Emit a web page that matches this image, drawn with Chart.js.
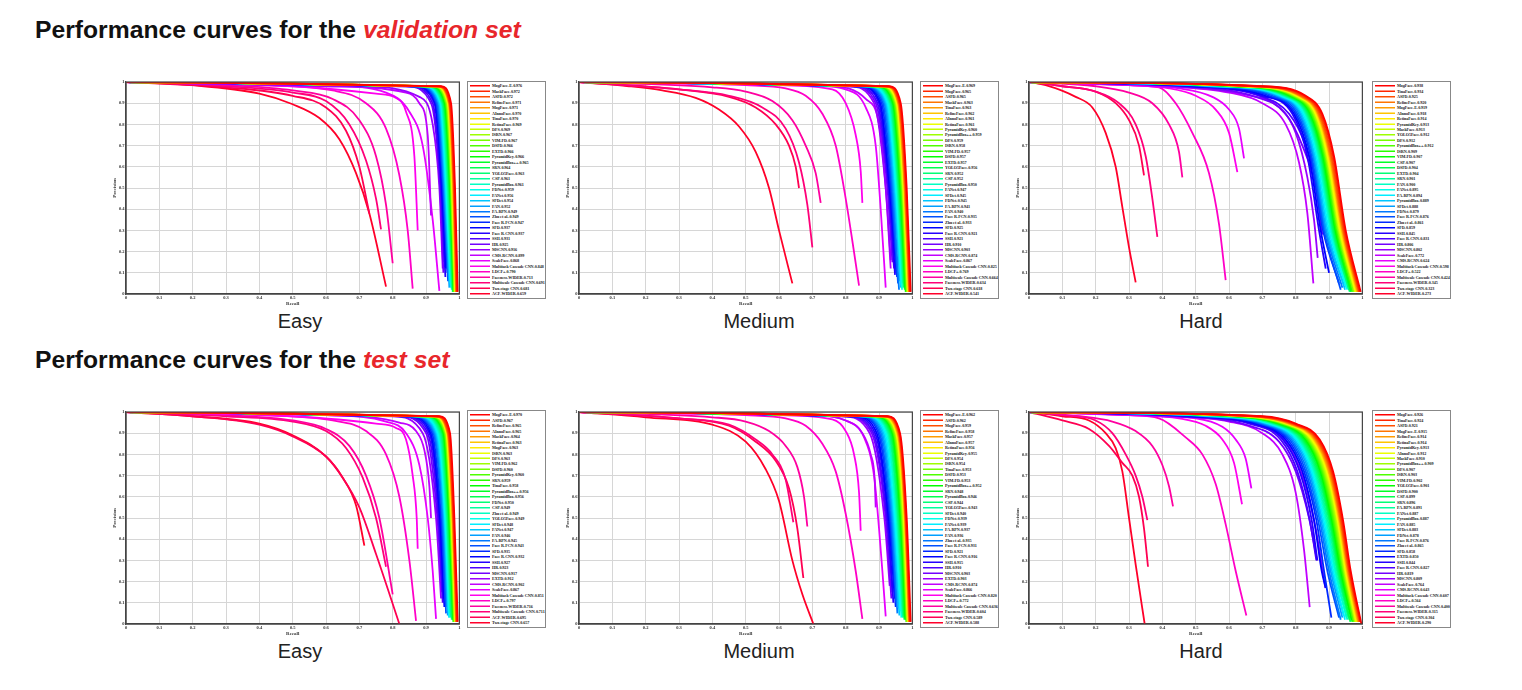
<!DOCTYPE html>
<html>
<head>
<meta charset="utf-8">
<script src="https://cdn.jsdelivr.net/npm/chart.js@4.4.1/dist/chart.umd.min.js"></script>
<style>
  body { margin: 0; width: 1522px; height: 690px; background: #fff; position: relative; overflow: hidden; font-family: "Liberation Sans", Arial, sans-serif; }
  .head { position: absolute; left: 35px; font-size: 24.7px; font-weight: bold; line-height: 24px; color: #111; white-space: nowrap; }
  .head em { color: #e8262b; }
  .sub { position: absolute; width: 200px; text-align: center; font-size: 20px; line-height: 20px; color: #222; }
  canvas { position: absolute; }
  .legend { position: absolute; width: 158px; height: 436px; border: 2px solid #888; box-sizing: border-box; transform: scale(.5); transform-origin: 0 0; background: #fff; padding-top: 2px; overflow: hidden; }
  .row { height: 10.95px; line-height: 10.95px; display: flex; align-items: center; white-space: nowrap; font: bold 8.3px "Liberation Serif", serif; letter-spacing: -0.15px; color: #222; }
  .row i { display: inline-block; width: 40px; height: 3px; margin: 0 4px 0 4px; flex: none; }
</style>
</head>
<body>
<div class="head" style="top:18px">Performance curves for the <em>validation set</em></div>
<div class="head" style="top:348px">Performance curves for the <em>test set</em></div>

<script>
// ---- tick labels ----
const tickValues = [0, 0.1, 0.2, 0.3, 0.4, 0.5, 0.6, 0.7, 0.8, 0.9, 1];
const difficulty = ['Easy', 'Medium', 'Hard'];

// ---- validation / easy ----
const valEasyNames = ['MogFace-E','MaskFace','ASFD','RefineFace','MogFace','AInnoFace','TinaFace','RetinaFace','DFS','ISRN',
  'VIM-FD','DSFD','EXTD','PyramidKey','PyramidBox++','SRN','YOLO5Face','CSP','PyramidBox','FDNet',
  'FANet','SFDet','FAN','FA-RPN','Zhu et al.','Face R-FCN','SFD','Face R-CNN','SSH','HR',
  'MSCNN','CMS-RCNN','ScaleFace','Multitask Cascade CNN','LDCF+','Faceness-WIDER','Multiscale Cascade CNN','Two-stage CNN','ACF-WIDER'];
const valEasyAP = [0.976,0.972,0.972,0.971,0.971,0.970,0.970,0.969,0.969,0.967,
  0.967,0.966,0.966,0.966,0.965,0.964,0.963,0.961,0.961,0.959,
  0.956,0.954,0.952,0.949,0.949,0.947,0.937,0.937,0.931,0.925,
  0.916,0.899,0.868,0.848,0.790,0.713,0.691,0.681,0.659];
const valEasyCurves = [
  [[0,1],[.945,.98],[.975,.9],[.987,.5],[.995,.01]],
  [[0,1],[.94,.98],[.972,.9],[.985,.5],[.993,.01]],
  [[0,1],[.938,.98],[.971,.9],[.984,.5],[.992,.01]],
  [[0,1],[.936,.98],[.97,.9],[.983,.5],[.991,.01]],
  [[0,1],[.934,.98],[.969,.9],[.982,.5],[.99,.01]],
  [[0,1],[.932,.98],[.968,.9],[.981,.5],[.99,.01]],
  [[0,1],[.93,.98],[.967,.9],[.98,.5],[.989,.01]],
  [[0,1],[.928,.98],[.966,.9],[.979,.5],[.988,.01]],
  [[0,1],[.926,.98],[.965,.9],[.978,.5],[.987,.01]],
  [[0,1],[.924,.98],[.963,.9],[.977,.5],[.986,.01]],
  [[0,1],[.922,.98],[.962,.9],[.976,.5],[.985,.01]],
  [[0,1],[.92,.98],[.96,.9],[.975,.5],[.985,.02]],
  [[0,1],[.918,.98],[.959,.9],[.974,.5],[.984,.01]],
  [[0,1],[.915,.98],[.957,.9],[.973,.5],[.983,.02]],
  [[0,1],[.912,.98],[.955,.9],[.971,.5],[.982,.01]],
  [[0,1],[.91,.98],[.953,.9],[.97,.5],[.981,.02]],
  [[0,1],[.907,.98],[.951,.9],[.968,.5],[.98,.01]],
  [[0,1],[.904,.98],[.949,.9],[.966,.5],[.978,.03]],
  [[0,1],[.9,.98],[.947,.9],[.964,.5],[.977,.02]],
  [[0,1],[.897,.98],[.945,.9],[.962,.5],[.975,.04]],
  [[0,1],[.894,.98],[.943,.9],[.96,.5],[.974,.03]],
  [[0,1],[.89,.98],[.94,.9],[.958,.5],[.972,.05]],
  [[0,1],[.886,.98],[.938,.9],[.956,.5],[.97,.03]],
  [[0,1],[.882,.98],[.935,.9],[.954,.5],[.968,.08]],
  [[0,1],[.878,.98],[.932,.9],[.952,.5],[.966,.06]],
  [[0,1],[.874,.98],[.93,.9],[.95,.5],[.964,.1]],
  [[0,1],[.87,.98],[.928,.9],[.948,.5],[.96,.12]],
  [[0,1],[.86,.98],[.925,.9],[.946,.5],[.958,.08]],
  [[0,1],[.85,.98],[.92,.9],[.944,.5],[.955,.15]],
  [[0,1],[.84,.98],[.915,.9],[.942,.5],[.952,.1]],
  [[0,1],[.7,.98],[.88,.93],[.92,.8],[.94,.5],[.95,.12]],
  [[0,1],[.6,.98],[.84,.95],[.88,.9],[.905,.75],[.915,.37]],
  [[0,1],[.6,.985],[.78,.95],[.85,.86],[.89,.7],[.92,.35],[.94,.015]],
  [[0,1],[.5,.98],[.75,.945],[.81,.925],[.84,.86],[.865,.65],[.875,.3]],
  [[0,1],[.4,.985],[.62,.96],[.72,.9],[.78,.78],[.82,.56],[.845,.3],[.86,.025]],
  [[0,1],[.3,.985],[.5,.96],[.62,.92],[.7,.82],[.75,.65],[.78,.42],[.8,.145]],
  [[0,1],[.3,.98],[.5,.95],[.6,.91],[.67,.8],[.72,.63],[.75,.45],[.765,.305]],
  [[0,1],[.3,.975],[.5,.935],[.6,.88],[.66,.77],[.7,.6],[.73,.38]],
  [[0,1],[.2,.985],[.4,.945],[.5,.895],[.58,.83],[.64,.73],[.69,.57],[.73,.38],[.78,.035]]
];

// ---- validation / medium ----
const valMedNames = ['MogFace-E','MogFace','ASFD','MaskFace','TinaFace','RefineFace','AInnoFace','RetinaFace','PyramidKey','PyramidBox++',
  'DFS','ISRN','VIM-FD','DSFD','EXTD','YOLO5Face','SRN','CSP','PyramidBox','FANet',
  'SFDet','FDNet','FA-RPN','FAN','Face R-FCN','Zhu et al.','SFD','Face R-CNN','SSH','HR',
  'MSCNN','CMS-RCNN','ScaleFace','Multitask Cascade CNN','LDCF+','Multiscale Cascade CNN','Faceness-WIDER','Two-stage CNN','ACF-WIDER'];
const valMedAP = [0.969,0.965,0.965,0.963,0.963,0.962,0.961,0.961,0.960,0.959,
  0.959,0.958,0.957,0.957,0.957,0.956,0.952,0.952,0.950,0.947,
  0.945,0.945,0.941,0.940,0.935,0.933,0.925,0.921,0.921,0.910,
  0.903,0.874,0.867,0.825,0.769,0.664,0.634,0.618,0.541];
const valMedCurves = [
  [[0,1],[.93,.98],[.965,.9],[.983,.5],[.995,.01]],
  [[0,1],[.926,.98],[.962,.9],[.981,.5],[.993,.01]],
  [[0,1],[.924,.98],[.961,.9],[.98,.5],[.992,.01]],
  [[0,1],[.921,.98],[.959,.9],[.978,.5],[.991,.01]],
  [[0,1],[.919,.98],[.958,.9],[.977,.5],[.99,.01]],
  [[0,1],[.917,.98],[.957,.9],[.976,.5],[.989,.01]],
  [[0,1],[.915,.98],[.955,.9],[.975,.5],[.988,.01]],
  [[0,1],[.913,.98],[.954,.9],[.974,.5],[.987,.01]],
  [[0,1],[.911,.98],[.952,.9],[.972,.5],[.986,.01]],
  [[0,1],[.909,.98],[.951,.9],[.971,.5],[.985,.01]],
  [[0,1],[.906,.98],[.949,.9],[.97,.5],[.984,.02]],
  [[0,1],[.903,.98],[.947,.9],[.968,.5],[.983,.01]],
  [[0,1],[.9,.98],[.945,.9],[.966,.5],[.981,.02]],
  [[0,1],[.897,.98],[.943,.9],[.965,.5],[.98,.01]],
  [[0,1],[.894,.98],[.941,.9],[.963,.5],[.978,.03]],
  [[0,1],[.891,.98],[.939,.9],[.961,.5],[.977,.02]],
  [[0,1],[.887,.98],[.936,.9],[.959,.5],[.975,.04]],
  [[0,1],[.884,.98],[.934,.9],[.957,.5],[.973,.03]],
  [[0,1],[.88,.98],[.931,.9],[.955,.5],[.971,.05]],
  [[0,1],[.876,.98],[.928,.9],[.952,.5],[.969,.02]],
  [[0,1],[.872,.98],[.925,.9],[.95,.5],[.967,.04]],
  [[0,1],[.868,.98],[.922,.9],[.947,.5],[.965,.03]],
  [[0,1],[.864,.98],[.919,.9],[.944,.5],[.963,.06]],
  [[0,1],[.86,.98],[.916,.9],[.941,.5],[.96,.02]],
  [[0,1],[.855,.98],[.912,.9],[.938,.5],[.957,.05]],
  [[0,1],[.85,.98],[.908,.9],[.935,.5],[.954,.08]],
  [[0,1],[.845,.98],[.904,.9],[.932,.5],[.952,.1]],
  [[0,1],[.84,.98],[.9,.9],[.93,.5],[.948,.09]],
  [[0,1],[.83,.98],[.895,.9],[.928,.5],[.945,.12]],
  [[0,1],[.82,.98],[.89,.9],[.925,.5],[.94,.15]],
  [[0,1],[.81,.98],[.885,.9],[.92,.5],[.935,.16]],
  [[0,1],[.75,.98],[.86,.92],[.9,.8],[.92,.5],[.935,.12]],
  [[0,1],[.7,.985],[.8,.965],[.86,.88],[.89,.7],[.905,.4],[.92,.03]],
  [[0,1],[.6,.985],[.76,.965],[.8,.9],[.83,.75],[.845,.58],[.85,.43]],
  [[0,1],[.5,.985],[.62,.97],[.68,.935],[.73,.85],[.77,.7],[.8,.45],[.82,.25],[.84,.04]],
  [[0,1],[.4,.975],[.5,.955],[.58,.91],[.64,.82],[.68,.7],[.71,.57],[.725,.43]],
  [[0,1],[.3,.965],[.45,.935],[.55,.88],[.62,.78],[.66,.62],[.685,.42],[.7,.22]],
  [[0,1],[.3,.965],[.45,.93],[.53,.88],[.59,.8],[.63,.7],[.65,.6],[.66,.5]],
  [[0,1],[.15,.98],[.25,.96],[.35,.925],[.42,.87],[.48,.79],[.53,.67],[.57,.5],[.6,.3],[.64,.05]]
];

// ---- validation / hard ----
const valHardNames = ['MogFace','TinaFace','ASFD','RefineFace','MogFace-E','AInnoFace','RetinaFace','PyramidKey','MaskFace','YOLO5Face',
  'DFS','PyramidBox++','ISRN','VIM-FD','CSP','DSFD','EXTD','SRN','FAN','FANet',
  'FA-RPN','PyramidBox','SFDet','FDNet','Face R-FCN','Zhu et al.','SFD','SSH','Face R-CNN','HR',
  'MSCNN','ScaleFace','CMS-RCNN','Multitask Cascade CNN','LDCF+','Multiscale Cascade CNN','Faceness-WIDER','Two-stage CNN','ACF-WIDER'];
const valHardAP = [0.938,0.934,0.925,0.920,0.919,0.918,0.914,0.913,0.913,0.912,
  0.912,0.912,0.909,0.907,0.907,0.904,0.904,0.901,0.900,0.895,
  0.894,0.889,0.888,0.879,0.876,0.861,0.859,0.845,0.831,0.806,
  0.802,0.772,0.624,0.598,0.522,0.424,0.345,0.323,0.273];
const valHardCurves = [
  [[0,1],[.7,.98],[.83,.935],[.88,.85],[.915,.65],[.95,.3],[.995,.01]],
  [[0,1],[.69,.98],[.825,.935],[.876,.85],[.912,.65],[.947,.3],[.992,.01]],
  [[0,1],[.68,.98],[.818,.935],[.872,.85],[.908,.65],[.944,.3],[.99,.01]],
  [[0,1],[.675,.98],[.815,.935],[.869,.85],[.905,.65],[.942,.3],[.988,.01]],
  [[0,1],[.67,.98],[.812,.935],[.867,.85],[.903,.65],[.94,.3],[.986,.01]],
  [[0,1],[.665,.98],[.81,.935],[.865,.85],[.901,.65],[.938,.3],[.984,.01]],
  [[0,1],[.66,.98],[.806,.935],[.862,.85],[.898,.65],[.935,.3],[.982,.01]],
  [[0,1],[.655,.98],[.803,.935],[.86,.85],[.896,.65],[.933,.3],[.98,.01]],
  [[0,1],[.65,.98],[.8,.935],[.858,.85],[.894,.65],[.931,.3],[.978,.01]],
  [[0,1],[.645,.98],[.797,.935],[.855,.85],[.892,.65],[.929,.3],[.976,.02]],
  [[0,1],[.64,.98],[.794,.935],[.853,.85],[.89,.65],[.927,.3],[.974,.01]],
  [[0,1],[.635,.98],[.791,.935],[.85,.85],[.888,.65],[.925,.3],[.972,.02]],
  [[0,1],[.63,.98],[.787,.935],[.847,.85],[.885,.65],[.922,.3],[.97,.01]],
  [[0,1],[.625,.98],[.784,.935],[.845,.85],[.883,.65],[.92,.3],[.968,.02]],
  [[0,1],[.62,.98],[.78,.935],[.842,.85],[.88,.65],[.918,.3],[.966,.01]],
  [[0,1],[.615,.98],[.776,.935],[.839,.85],[.878,.65],[.915,.3],[.964,.02]],
  [[0,1],[.61,.98],[.772,.935],[.836,.85],[.875,.65],[.912,.3],[.962,.01]],
  [[0,1],[.605,.98],[.768,.935],[.833,.85],[.872,.65],[.91,.3],[.96,.02]],
  [[0,1],[.6,.98],[.764,.935],[.83,.85],[.869,.65],[.907,.3],[.958,.03]],
  [[0,1],[.59,.98],[.76,.935],[.826,.85],[.866,.65],[.904,.3],[.955,.02]],
  [[0,1],[.58,.98],[.755,.935],[.822,.85],[.862,.65],[.9,.3],[.952,.03]],
  [[0,1],[.57,.98],[.75,.935],[.818,.85],[.858,.65],[.896,.3],[.948,.02]],
  [[0,1],[.56,.98],[.745,.935],[.814,.85],[.855,.65],[.892,.3],[.945,.04]],
  [[0,1],[.55,.98],[.74,.935],[.81,.85],[.852,.65],[.889,.3],[.94,.03]],
  [[0,1],[.54,.98],[.73,.935],[.805,.85],[.848,.65],[.885,.3],[.935,.02]],
  [[0,1],[.52,.98],[.72,.935],[.8,.85],[.845,.65],[.882,.3],[.93,.05]],
  [[0,1],[.5,.98],[.71,.935],[.795,.85],[.84,.65],[.875,.3],[.9,.1]],
  [[0,1],[.48,.98],[.7,.935],[.79,.85],[.835,.65],[.87,.3],[.89,.12]],
  [[0,1],[.5,.98],[.7,.93],[.78,.85],[.83,.7],[.865,.5],[.885,.29]],
  [[0,1],[.45,.98],[.68,.93],[.77,.85],[.82,.7],[.86,.5],[.88,.28]],
  [[0,1],[.45,.98],[.65,.94],[.75,.88],[.8,.76],[.835,.55],[.855,.35],[.866,.17]],
  [[0,1],[.4,.98],[.6,.95],[.7,.9],[.77,.8],[.81,.62],[.835,.38],[.853,.05]],
  [[0,1],[.3,.985],[.45,.97],[.55,.93],[.6,.87],[.63,.78],[.645,.64]],
  [[0,1],[.3,.985],[.42,.97],[.5,.935],[.56,.87],[.6,.76],[.625,.575]],
  [[0,1],[.3,.985],[.39,.975],[.44,.9],[.49,.76],[.54,.57],[.57,.33],[.59,.065]],
  [[0,1],[.2,.98],[.3,.95],[.37,.9],[.42,.8],[.45,.67],[.46,.55]],
  [[0,1],[.1,.98],[.2,.955],[.27,.9],[.32,.8],[.35,.65],[.37,.45],[.385,.27]],
  [[0,1],[.1,.98],[.2,.955],[.26,.9],[.3,.82],[.33,.7],[.345,.56]],
  [[0,1],[.05,.985],[.14,.93],[.19,.88],[.23,.76],[.26,.6],[.28,.41],[.3,.22],[.32,.055]]
];

// ---- test / easy ----
const testEasyNames = ['MogFace-E','ASFD','RefineFace','AInnoFace','MaskFace','RetinaFace','MogFace','ISRN','DFS','VIM-FD',
  'DSFD','PyramidKey','SRN','TinaFace','PyramidBox++','PyramidBox','FDNet','CSP','Zhu et al.','YOLO5Face',
  'SFDet','FANet','FAN','FA-RPN','Face R-FCN','SFD','Face R-CNN','SSH','HR','MSCNN',
  'EXTD','CMS-RCNN','ScaleFace','Multitask Cascade CNN','LDCF+','Faceness-WIDER','Multiscale Cascade CNN','ACF-WIDER','Two-stage CNN'];
const testEasyAP = [0.970,0.967,0.965,0.965,0.964,0.963,0.963,0.963,0.963,0.962,
  0.960,0.960,0.959,0.958,0.956,0.956,0.950,0.949,0.949,0.949,
  0.948,0.947,0.946,0.945,0.943,0.935,0.932,0.927,0.923,0.917,
  0.912,0.902,0.867,0.851,0.797,0.716,0.711,0.695,0.657];
const testEasyCurves = [
  [[0,1],[.94,.98],[.972,.9],[.985,.5],[.995,.01]],
  [[0,1],[.935,.98],[.969,.9],[.983,.5],[.993,.01]],
  [[0,1],[.932,.98],[.967,.9],[.982,.5],[.992,.01]],
  [[0,1],[.93,.98],[.966,.9],[.981,.5],[.991,.01]],
  [[0,1],[.928,.98],[.965,.9],[.98,.5],[.99,.01]],
  [[0,1],[.926,.98],[.964,.9],[.979,.5],[.99,.01]],
  [[0,1],[.924,.98],[.963,.9],[.978,.5],[.989,.01]],
  [[0,1],[.922,.98],[.962,.9],[.977,.5],[.988,.01]],
  [[0,1],[.92,.98],[.961,.9],[.976,.5],[.987,.01]],
  [[0,1],[.918,.98],[.96,.9],[.975,.5],[.986,.01]],
  [[0,1],[.915,.98],[.958,.9],[.974,.5],[.985,.02]],
  [[0,1],[.913,.98],[.957,.9],[.973,.5],[.984,.01]],
  [[0,1],[.91,.98],[.955,.9],[.972,.5],[.983,.02]],
  [[0,1],[.907,.98],[.953,.9],[.97,.5],[.982,.01]],
  [[0,1],[.904,.98],[.951,.9],[.969,.5],[.981,.02]],
  [[0,1],[.901,.98],[.949,.9],[.967,.5],[.979,.03]],
  [[0,1],[.897,.98],[.946,.9],[.965,.5],[.977,.02]],
  [[0,1],[.893,.98],[.943,.9],[.963,.5],[.975,.04]],
  [[0,1],[.889,.98],[.94,.9],[.961,.5],[.973,.03]],
  [[0,1],[.885,.98],[.937,.9],[.959,.5],[.971,.05]],
  [[0,1],[.88,.98],[.934,.9],[.957,.5],[.969,.03]],
  [[0,1],[.875,.98],[.931,.9],[.955,.5],[.967,.06]],
  [[0,1],[.87,.98],[.928,.9],[.953,.5],[.965,.04]],
  [[0,1],[.865,.98],[.925,.9],[.95,.5],[.963,.08]],
  [[0,1],[.86,.98],[.922,.9],[.948,.5],[.96,.05]],
  [[0,1],[.855,.98],[.918,.9],[.945,.5],[.958,.1]],
  [[0,1],[.85,.98],[.914,.9],[.942,.5],[.955,.08]],
  [[0,1],[.84,.98],[.91,.9],[.94,.5],[.952,.12]],
  [[0,1],[.83,.98],[.905,.9],[.937,.5],[.95,.1]],
  [[0,1],[.82,.98],[.9,.9],[.934,.5],[.948,.15]],
  [[0,1],[.8,.98],[.89,.9],[.93,.5],[.945,.12]],
  [[0,1],[.6,.985],[.82,.95],[.87,.91],[.895,.82],[.91,.65],[.915,.5]],
  [[0,1],[.6,.985],[.78,.955],[.84,.9],[.88,.75],[.905,.5],[.92,.25],[.93,.024]],
  [[0,1],[.5,.98],[.75,.945],[.81,.925],[.84,.87],[.86,.7],[.872,.5],[.875,.355]],
  [[0,1],[.4,.985],[.62,.96],[.72,.91],[.78,.8],[.82,.6],[.85,.3],[.87,.015]],
  [[0,1],[.3,.985],[.5,.96],[.6,.92],[.67,.84],[.72,.7],[.76,.5],[.8,.14]],
  [[0,1],[.3,.98],[.5,.955],[.6,.91],[.66,.83],[.71,.69],[.75,.5],[.78,.27]],
  [[0,1],[.2,.98],[.4,.94],[.5,.885],[.6,.79],[.65,.69],[.7,.55],[.75,.33],[.82,0]],
  [[0,1],[.2,.98],[.4,.945],[.5,.89],[.6,.79],[.65,.69],[.69,.56],[.715,.37]]
];

// ---- test / medium ----
const testMedNames = ['MogFace-E','ASFD','MogFace','RefineFace','MaskFace','AInnoFace','RetinaFace','PyramidKey','DFS','ISRN',
  'TinaFace','DSFD','VIM-FD','PyramidBox++','SRN','PyramidBox','CSP','YOLO5Face','SFDet','FDNet',
  'FANet','FA-RPN','FAN','Zhu et al.','Face R-FCN','SFD','Face R-CNN','SSH','HR','MSCNN',
  'EXTD','CMS-RCNN','ScaleFace','Multitask Cascade CNN','LDCF+','Multiscale Cascade CNN','Faceness-WIDER','Two-stage CNN','ACF-WIDER'];
const testMedAP = [0.962,0.962,0.959,0.958,0.957,0.957,0.956,0.955,0.954,0.954,
  0.953,0.953,0.953,0.952,0.948,0.946,0.944,0.943,0.940,0.939,
  0.939,0.937,0.936,0.935,0.931,0.921,0.916,0.915,0.910,0.903,
  0.903,0.874,0.866,0.820,0.772,0.636,0.604,0.589,0.588];
const testMedCurves = [
  [[0,1],[.925,.98],[.963,.9],[.983,.5],[.995,.01]],
  [[0,1],[.922,.98],[.961,.9],[.981,.5],[.993,.01]],
  [[0,1],[.92,.98],[.96,.9],[.98,.5],[.992,.01]],
  [[0,1],[.917,.98],[.958,.9],[.979,.5],[.991,.01]],
  [[0,1],[.915,.98],[.957,.9],[.978,.5],[.99,.01]],
  [[0,1],[.912,.98],[.955,.9],[.977,.5],[.989,.01]],
  [[0,1],[.91,.98],[.954,.9],[.976,.5],[.988,.01]],
  [[0,1],[.907,.98],[.952,.9],[.975,.5],[.987,.01]],
  [[0,1],[.905,.98],[.951,.9],[.973,.5],[.986,.01]],
  [[0,1],[.902,.98],[.949,.9],[.972,.5],[.985,.02]],
  [[0,1],[.9,.98],[.947,.9],[.97,.5],[.984,.01]],
  [[0,1],[.897,.98],[.945,.9],[.969,.5],[.983,.02]],
  [[0,1],[.894,.98],[.943,.9],[.967,.5],[.982,.01]],
  [[0,1],[.891,.98],[.941,.9],[.965,.5],[.98,.02]],
  [[0,1],[.888,.98],[.938,.9],[.963,.5],[.978,.03]],
  [[0,1],[.884,.98],[.935,.9],[.961,.5],[.976,.02]],
  [[0,1],[.88,.98],[.932,.9],[.958,.5],[.974,.04]],
  [[0,1],[.876,.98],[.929,.9],[.956,.5],[.972,.03]],
  [[0,1],[.872,.98],[.926,.9],[.953,.5],[.97,.05]],
  [[0,1],[.868,.98],[.922,.9],[.95,.5],[.967,.03]],
  [[0,1],[.864,.98],[.918,.9],[.947,.5],[.964,.06]],
  [[0,1],[.86,.98],[.914,.9],[.944,.5],[.961,.04]],
  [[0,1],[.855,.98],[.91,.9],[.941,.5],[.958,.08]],
  [[0,1],[.85,.98],[.906,.9],[.938,.5],[.955,.05]],
  [[0,1],[.845,.98],[.902,.9],[.935,.5],[.952,.1]],
  [[0,1],[.84,.98],[.898,.9],[.932,.5],[.95,.08]],
  [[0,1],[.83,.98],[.893,.9],[.929,.5],[.947,.12]],
  [[0,1],[.82,.98],[.888,.9],[.926,.5],[.943,.1]],
  [[0,1],[.81,.98],[.883,.9],[.923,.5],[.94,.15]],
  [[0,1],[.8,.98],[.878,.9],[.92,.5],[.937,.12]],
  [[0,1],[.79,.98],[.872,.9],[.916,.5],[.932,.18]],
  [[0,1],[.7,.985],[.8,.96],[.85,.9],[.875,.8],[.887,.68],[.89,.55]],
  [[0,1],[.7,.985],[.8,.96],[.855,.88],[.885,.7],[.9,.45],[.91,.25],[.92,.036]],
  [[0,1],[.6,.985],[.76,.965],[.8,.91],[.825,.8],[.84,.62],[.845,.44]],
  [[0,1],[.5,.985],[.62,.97],[.68,.935],[.73,.85],[.77,.72],[.8,.52],[.83,.25],[.85,.024]],
  [[0,1],[.4,.975],[.5,.955],[.57,.91],[.62,.84],[.655,.74],[.675,.6],[.685,.46]],
  [[0,1],[.3,.97],[.45,.94],[.53,.87],[.58,.8],[.62,.68],[.643,.48]],
  [[0,1],[.3,.97],[.45,.935],[.53,.86],[.59,.77],[.63,.64],[.655,.45],[.673,.217]],
  [[0,1],[.2,.975],[.4,.94],[.5,.86],[.56,.73],[.6,.58],[.64,.3],[.67,.14],[.703,0]]
];

// ---- test / hard ----
const testHardNames = ['MogFace','TinaFace','ASFD','MogFace-E','RefineFace','RetinaFace','PyramidKey','AInnoFace','MaskFace','PyramidBox++',
  'DFS','ISRN','VIM-FD','YOLO5Face','DSFD','CSP','SRN','FA-RPN','FANet','PyramidBox',
  'FAN','SFDet','FDNet','Face R-FCN','Zhu et al.','SFD','EXTD','SSH','Face R-CNN','HR',
  'MSCNN','ScaleFace','CMS-RCNN','Multitask Cascade CNN','LDCF+','Multiscale Cascade CNN','Faceness-WIDER','Two-stage CNN','ACF-WIDER'];
const testHardAP = [0.926,0.924,0.921,0.915,0.914,0.914,0.913,0.912,0.910,0.909,
  0.907,0.903,0.902,0.901,0.900,0.899,0.896,0.891,0.887,0.887,
  0.885,0.883,0.878,0.876,0.865,0.858,0.850,0.844,0.827,0.819,
  0.809,0.764,0.643,0.607,0.564,0.400,0.315,0.304,0.290];
const testHardCurves = [
  [[0,1],[.7,.98],[.8,.945],[.872,.87],[.912,.72],[.942,.49],[.965,.25],[.997,0]],
  [[0,1],[.69,.98],[.795,.945],[.868,.87],[.909,.72],[.939,.49],[.962,.25],[.994,.01]],
  [[0,1],[.68,.98],[.79,.945],[.864,.87],[.906,.72],[.936,.49],[.96,.25],[.992,.01]],
  [[0,1],[.675,.98],[.786,.945],[.861,.87],[.903,.72],[.934,.49],[.958,.25],[.99,.01]],
  [[0,1],[.67,.98],[.782,.945],[.858,.87],[.9,.72],[.932,.49],[.956,.25],[.988,.01]],
  [[0,1],[.665,.98],[.779,.945],[.855,.87],[.898,.72],[.93,.49],[.954,.25],[.986,.01]],
  [[0,1],[.66,.98],[.776,.945],[.852,.87],[.896,.72],[.928,.49],[.952,.25],[.984,.01]],
  [[0,1],[.655,.98],[.773,.945],[.849,.87],[.893,.72],[.926,.49],[.95,.25],[.982,.01]],
  [[0,1],[.65,.98],[.77,.945],[.846,.87],[.89,.72],[.924,.49],[.948,.25],[.98,.01]],
  [[0,1],[.645,.98],[.767,.945],[.843,.87],[.887,.72],[.921,.49],[.946,.25],[.978,.01]],
  [[0,1],[.64,.98],[.764,.945],[.84,.87],[.884,.72],[.918,.49],[.944,.25],[.976,.02]],
  [[0,1],[.635,.98],[.76,.945],[.837,.87],[.881,.72],[.915,.49],[.942,.25],[.974,.01]],
  [[0,1],[.63,.98],[.756,.945],[.834,.87],[.878,.72],[.912,.49],[.939,.25],[.972,.02]],
  [[0,1],[.625,.98],[.752,.945],[.83,.87],[.875,.72],[.909,.49],[.936,.25],[.97,.01]],
  [[0,1],[.62,.98],[.748,.945],[.826,.87],[.872,.72],[.906,.49],[.933,.25],[.967,.02]],
  [[0,1],[.615,.98],[.744,.945],[.822,.87],[.868,.72],[.903,.49],[.93,.25],[.964,.01]],
  [[0,1],[.61,.98],[.74,.945],[.818,.87],[.864,.72],[.9,.49],[.927,.25],[.961,.02]],
  [[0,1],[.6,.98],[.735,.945],[.814,.87],[.86,.72],[.896,.49],[.924,.25],[.958,.03]],
  [[0,1],[.59,.98],[.73,.945],[.81,.87],[.856,.72],[.892,.49],[.92,.25],[.955,.02]],
  [[0,1],[.58,.98],[.725,.945],[.806,.87],[.852,.72],[.888,.49],[.917,.25],[.952,.03]],
  [[0,1],[.57,.98],[.72,.945],[.802,.87],[.848,.72],[.884,.49],[.913,.25],[.948,.02]],
  [[0,1],[.56,.98],[.714,.945],[.797,.87],[.844,.72],[.88,.49],[.909,.25],[.944,.04]],
  [[0,1],[.55,.98],[.708,.945],[.792,.87],[.84,.72],[.876,.49],[.905,.25],[.94,.03]],
  [[0,1],[.54,.98],[.702,.945],[.787,.87],[.835,.72],[.872,.49],[.9,.25],[.935,.02]],
  [[0,1],[.53,.98],[.695,.945],[.782,.87],[.83,.72],[.867,.49],[.895,.25],[.93,.03]],
  [[0,1],[.52,.98],[.688,.945],[.776,.87],[.825,.72],[.862,.49],[.885,.25],[.907,.03]],
  [[0,1],[.5,.98],[.68,.945],[.77,.87],[.82,.72],[.855,.49],[.878,.25],[.89,.17]],
  [[0,1],[.48,.98],[.67,.945],[.762,.87],[.812,.72],[.848,.49],[.865,.3]],
  [[0,1],[.46,.98],[.66,.945],[.755,.87],[.805,.72],[.842,.49],[.862,.3]],
  [[0,1],[.45,.98],[.65,.94],[.75,.86],[.8,.72],[.84,.5],[.864,.3]],
  [[0,1],[.5,.98],[.68,.94],[.77,.86],[.82,.7],[.86,.45],[.889,.17]],
  [[0,1],[.4,.98],[.6,.955],[.7,.9],[.76,.8],[.8,.62],[.825,.35],[.842,.08]],
  [[0,1],[.3,.985],[.5,.97],[.58,.93],[.62,.87],[.65,.78],[.667,.64]],
  [[0,1],[.3,.985],[.45,.97],[.53,.935],[.58,.87],[.615,.76],[.639,.565]],
  [[0,1],[.3,.985],[.39,.97],[.47,.88],[.52,.8],[.56,.66],[.59,.47],[.62,.25],[.652,.04]],
  [[0,1],[.15,.98],[.25,.955],[.32,.91],[.37,.84],[.4,.75],[.42,.65],[.432,.555]],
  [[0,1],[.1,.985],[.2,.96],[.25,.9],[.29,.8],[.32,.7],[.34,.6],[.355,.49]],
  [[0,1],[.1,.96],[.18,.92],[.24,.84],[.28,.76],[.31,.7],[.33,.6],[.345,.45],[.357,.27]],
  [[0,1],[.1,.98],[.18,.96],[.23,.9],[.26,.83],[.28,.72],[.3,.5],[.32,.28],[.347,0]]
];

// ---- layout ----
const colLeft = [126, 579, 1029];
const rowTop = [82, 412];
const legendLeft = [467, 920, 1372];
const legendTop = [81, 410];
const subCenter = [300, 759, 1201];
const subTop = [311, 641];

const panels = [
  { row: 0, col: 0, names: valEasyNames, ap: valEasyAP, curves: valEasyCurves },
  { row: 0, col: 1, names: valMedNames, ap: valMedAP, curves: valMedCurves },
  { row: 0, col: 2, names: valHardNames, ap: valHardAP, curves: valHardCurves },
  { row: 1, col: 0, names: testEasyNames, ap: testEasyAP, curves: testEasyCurves },
  { row: 1, col: 1, names: testMedNames, ap: testMedAP, curves: testMedCurves },
  { row: 1, col: 2, names: testHardNames, ap: testHardAP, curves: testHardCurves }
];

function lineColor(i, n) {
  const hue = i * 350 / (n - 1);
  return 'hsl(' + hue.toFixed(1) + ', 100%, 50%)';
}

// box round the plot, like matlab
const boxPlugin = {
  id: 'box',
  afterDraw(chart) {
    const a = chart.chartArea, ctx = chart.ctx;
    ctx.save();
    ctx.strokeStyle = '#444';
    ctx.lineWidth = 1.2;
    ctx.strokeRect(a.left, a.top, a.right - a.left, a.bottom - a.top);
    ctx.restore();
  }
};

const tickFont = { size: 4.5, family: '"Liberation Serif", serif', weight: 'bold' };
const titleFont = { size: 5, family: '"Liberation Serif", serif', weight: 'bold' };
const fmt = v => String(+(+v).toFixed(1));

panels.forEach(p => {
  const w = 334, h = 212;
  const canvas = document.createElement('canvas');
  canvas.width = w + 14 + 2;
  canvas.height = h + 6 + 13;
  canvas.style.left = (colLeft[p.col] - 14) + 'px';
  canvas.style.top = (rowTop[p.row] - 6) + 'px';
  document.body.appendChild(canvas);

  const n = p.names.length;
  const datasets = p.curves.map((pts, i) => ({
    label: p.names[i] + '-' + p.ap[i].toFixed(3),
    data: pts,
    borderColor: lineColor(i, n),
    borderWidth: 1.8,
    pointRadius: 0,
    cubicInterpolationMode: 'monotone',
    fill: false
  }));

  new Chart(canvas, {
    type: 'line',
    data: { datasets },
    options: {
      responsive: false,
      devicePixelRatio: 1,
      animation: false,
      events: [],
      layout: { padding: { left: 0, right: 2, top: 6, bottom: 0 } },
      plugins: { legend: { display: false }, tooltip: { enabled: false } },
      scales: {
        x: {
          type: 'linear', min: 0, max: 1,
          afterFit: s => { s.height = 13; },
          afterBuildTicks: s => { s.ticks = tickValues.map(v => ({ value: v })); },
          ticks: { autoSkip: false, maxRotation: 0, padding: 1.5, font: tickFont, color: '#333', callback: fmt },
          grid: { color: '#d6d6d6', lineWidth: 1, drawTicks: false },
          border: { color: '#444', width: 1.2 },
          title: { display: true, text: 'Recall', padding: 0, font: titleFont, color: '#333' }
        },
        y: {
          type: 'linear', min: 0, max: 1,
          afterFit: s => { s.width = 14; },
          afterBuildTicks: s => { s.ticks = tickValues.map(v => ({ value: v })); },
          ticks: { autoSkip: false, padding: 1.5, font: tickFont, color: '#333', callback: fmt },
          grid: { color: '#d6d6d6', lineWidth: 1, drawTicks: false },
          border: { color: '#444', width: 1.2 },
          title: { display: true, text: 'Precision', padding: 0, font: titleFont, color: '#333' }
        }
      }
    },
    plugins: [boxPlugin]
  });

  // legend box
  const lg = document.createElement('div');
  lg.className = 'legend';
  lg.style.left = legendLeft[p.col] + 'px';
  lg.style.top = legendTop[p.row] + 'px';
  datasets.forEach(d => {
    const row = document.createElement('div');
    row.className = 'row';
    const sw = document.createElement('i');
    sw.style.background = d.borderColor;
    row.appendChild(sw);
    row.appendChild(document.createTextNode(d.label));
    lg.appendChild(row);
  });
  document.body.appendChild(lg);

  const sub = document.createElement('div');
  sub.className = 'sub';
  sub.textContent = difficulty[p.col];
  sub.style.left = (subCenter[p.col] - 100) + 'px';
  sub.style.top = subTop[p.row] + 'px';
  document.body.appendChild(sub);
});
</script>
</body>
</html>
